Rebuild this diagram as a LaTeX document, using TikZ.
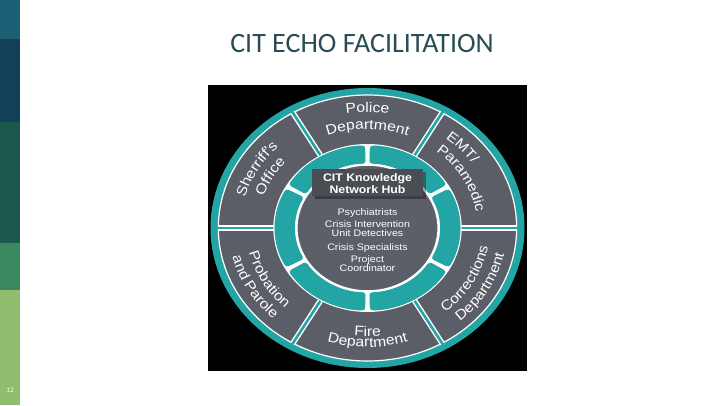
\documentclass[tikz,border=0pt]{standalone}
\usepackage{fontspec}
\setmainfont{Carlito}
\newfontfamily\dfont[FakeStretch=1.12]{Liberation Sans}
\usetikzlibrary{decorations.text}
\definecolor{band1}{RGB}{29,95,116}
\definecolor{band2}{RGB}{19,64,88}
\definecolor{band3}{RGB}{26,88,77}
\definecolor{band4}{RGB}{58,136,95}
\definecolor{band5}{RGB}{145,190,110}
\definecolor{titlecol}{RGB}{42,77,85}
\definecolor{tealc}{RGB}{36,165,165}
\definecolor{sectgray}{RGB}{91,94,102}
\definecolor{diskgray}{RGB}{92,95,103}
\definecolor{hubgray}{RGB}{74,77,84}
\newcommand\labfont{\dfont\fontsize{14}{16}\selectfont}
\tikzset{
  lab/.style={decorate, decoration={text along path, text align=center, text color=white, text={|\labfont|#1}}},
  innertxt/.style={font=\dfont\fontsize{9.5}{10}\selectfont, text=white, anchor=base, inner sep=0pt},
  hubtxt/.style={font=\dfont\bfseries\fontsize{11}{12}\selectfont, text=white, anchor=base, inner sep=0pt}
}
\begin{document}
\begin{tikzpicture}[x=1pt,y=1pt]
\useasboundingbox (0,0) rectangle (720,405);
\fill[white] (0,0) rectangle (720,405);
\fill[band1] (0,366) rectangle (20,405);
\fill[band2] (0,283) rectangle (20,366);
\fill[band3] (0,162) rectangle (20,283);
\fill[band4] (0,115) rectangle (20,162);
\fill[band5] (0,0) rectangle (20,115);
\node[font=\fontsize{7}{8}\selectfont, text=white] (pg) at (10,15) {12};
\node[font=\fontsize{28}{30}\selectfont, text=titlecol] (title) at (362,361) {CIT ECHO FACILITATION};
\fill[black] (208,34) rectangle (527,320);
\begin{scope}[shift={(367.5,177)}, x=157pt, y=140pt]
  \fill[tealc] (0,0) circle (1);
  \filldraw[fill=sectgray, draw=white, line width=1.2pt] (0,0) circle (0.95);
  \foreach \a in {0,60,...,300} {
    \draw[white, line width=5.5pt] (\a:0.585) -- (\a:0.955);
    \draw[tealc, line width=2.6pt] (\a:0.585) -- (\a:0.99);
  }
  \fill[white] (0,0) circle (0.6);
  \foreach \a in {30,90,...,330} {
    \fill[tealc, rounded corners=3pt] (\a+1.5:0.59) arc[start angle=\a+1.5, end angle=\a+58.5, radius=0.59] -- (\a+58.5:0.46) arc[start angle=\a+58.5, end angle=\a+1.5, radius=0.46] -- cycle;
  }
  \filldraw[fill=diskgray, draw=white, line width=1.5pt] (0,0) circle (0.45);
  % Police
  \path[lab=Police] (118:0.825) arc[start angle=118, end angle=62, radius=0.825];
  \path[lab=Department] (119:0.705) arc[start angle=119, end angle=61, radius=0.705];
  % Sheriff
  \path[lab=Sherriff's] (178:0.81) arc[start angle=178, end angle=122, radius=0.81];
  \path[lab=Office] (178:0.70) arc[start angle=178, end angle=122, radius=0.70];
  % EMT
  \path[lab=EMT/] (58:0.81) arc[start angle=58, end angle=28, radius=0.81];
  \path[lab=Paramedic] (58:0.70) arc[start angle=58, end angle=2, radius=0.70];
  % Probation
  \path[lab=Probation] (182:0.775) arc[start angle=182, end angle=238, radius=0.775];
  \path[lab=and Parole] (182:0.885) arc[start angle=182, end angle=238, radius=0.885];
  % Corrections
  \path[lab=Corrections] (302:0.78) arc[start angle=302, end angle=358, radius=0.78];
  \path[lab=Department] (302:0.89) arc[start angle=302, end angle=358, radius=0.89];
  % Fire
  \path[lab=Fire] (242:0.775) arc[start angle=242, end angle=298, radius=0.775];
  \path[lab=Department] (242:0.85) arc[start angle=242, end angle=298, radius=0.85];
\end{scope}
\fill[black, opacity=0.35] (314.5,206.5) rectangle (425.5,233.5);
\fill[hubgray] (312,209) rectangle (423,236);
\node[hubtxt] (h1) at (367.5,224) {CIT Knowledge};
\node[hubtxt] (h2) at (367.5,211.7) {Network Hub};
\node[innertxt] (t1) at (367.5,190) {Psychiatrists};
\node[innertxt] (t2) at (367.5,177.5) {Crisis Intervention};
\node[innertxt] (t3) at (367.5,169) {Unit Detectives};
\node[innertxt] (t4) at (367.5,154.7) {Crisis Specialists};
\node[innertxt] (t5) at (367.5,142.5) {Project};
\node[innertxt] (t6) at (367.5,133.5) {Coordinator};
\end{tikzpicture}
\end{document}
